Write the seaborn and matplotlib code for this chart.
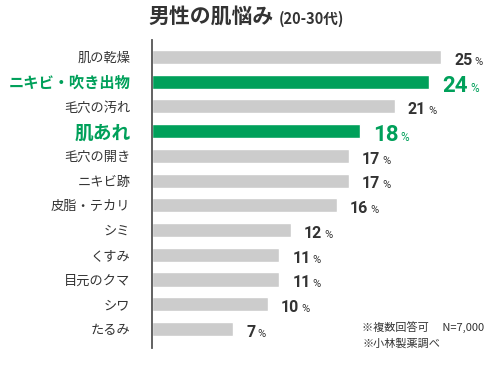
import matplotlib
matplotlib.use('Agg')
import matplotlib.pyplot as plt
import seaborn as sns
import pandas as pd

# data
labels = ['肌の乾燥', 'ニキビ・吹き出物', '毛穴の汚れ', '肌あれ', '毛穴の開き', 'ニキビ跡',
          '皮脂・テカリ', 'シミ', 'くすみ', '目元のクマ', 'シワ', 'たるみ']
values = [25, 24, 21, 18, 17, 17, 16, 12, 11, 11, 10, 7]
highlight = ['ニキビ・吹き出物', '肌あれ']

GREEN = '#00a05a'
GRAY = '#cccccc'
DARK = '#333333'

sns.set_theme(style='white')
plt.rcParams['font.family'] = ['Noto Sans CJK JP', 'DejaVu Sans']

df = pd.DataFrame({'label': labels, 'value': values})
colors = [GREEN if l in highlight else GRAY for l in labels]

fig = plt.figure(figsize=(5, 3.69), dpi=100)
ax = fig.add_axes([0.304, 0.057, 0.676, 0.835])

sns.barplot(data=df, x='value', y='label', hue='label', palette=colors,
            legend=False, orient='h', width=0.57, saturation=1, ax=ax)

ax.set_xlim(0, 29.24)
ax.set_ylim(len(labels) - 1 + 0.77, -0.69)
ax.set_xlabel('')
ax.set_ylabel('')
ax.set_xticks([])
sns.despine(ax=ax, top=True, right=True, bottom=True, left=False)
ax.spines['left'].set_color('#555555')
ax.spines['left'].set_linewidth(1.3)
ax.tick_params(axis='y', length=0, pad=15.5)

for t, l in zip(ax.get_yticklabels(), labels):
    if l in highlight:
        t.set_color(GREEN)
        t.set_fontweight('bold')
        t.set_fontsize(13.5 if l == '肌あれ' else 11)
    else:
        t.set_color(DARK)
        t.set_fontsize(9.5)

# value labels: number + small %
fig.canvas.draw()
renderer = fig.canvas.get_renderer()
for i, (l, v) in enumerate(zip(labels, values)):
    hl = l in highlight
    col = GREEN if hl else DARK
    fs = 16 if hl else 11.5
    dy = -7.3 if hl else -5.6
    num = ax.annotate(str(v), xy=(v, i), xytext=(9.5, dy), textcoords='offset points',
                      ha='left', va='baseline', fontsize=fs, fontweight='bold', color=col,
                      family=['Roboto', 'DejaVu Sans'])
    w = num.get_window_extent(renderer).width * 72 / fig.dpi
    ax.annotate('%', xy=(v, i), xytext=(9.5 + w + 1.5, dy), textcoords='offset points',
                ha='left', va='baseline', fontsize=8.5 if hl else 8,
                color=col, family=['Roboto', 'DejaVu Sans'])

# title
fig.text(0.548, 0.955, '男性の肌悩み', ha='right', va='center', fontsize=15,
         fontweight='bold', color=DARK)
fig.text(0.558, 0.950, '(20-30代)', ha='left', va='center', fontsize=10.5,
         fontweight='bold', color=DARK)

# notes
fig.text(0.724, 0.113, '※複数回答可　 N=7,000', ha='left', va='center', fontsize=8, color=DARK)
fig.text(0.724, 0.070, '※小林製薬調べ', ha='left', va='center', fontsize=8, color=DARK)

fig.savefig('out.png', dpi=100)
